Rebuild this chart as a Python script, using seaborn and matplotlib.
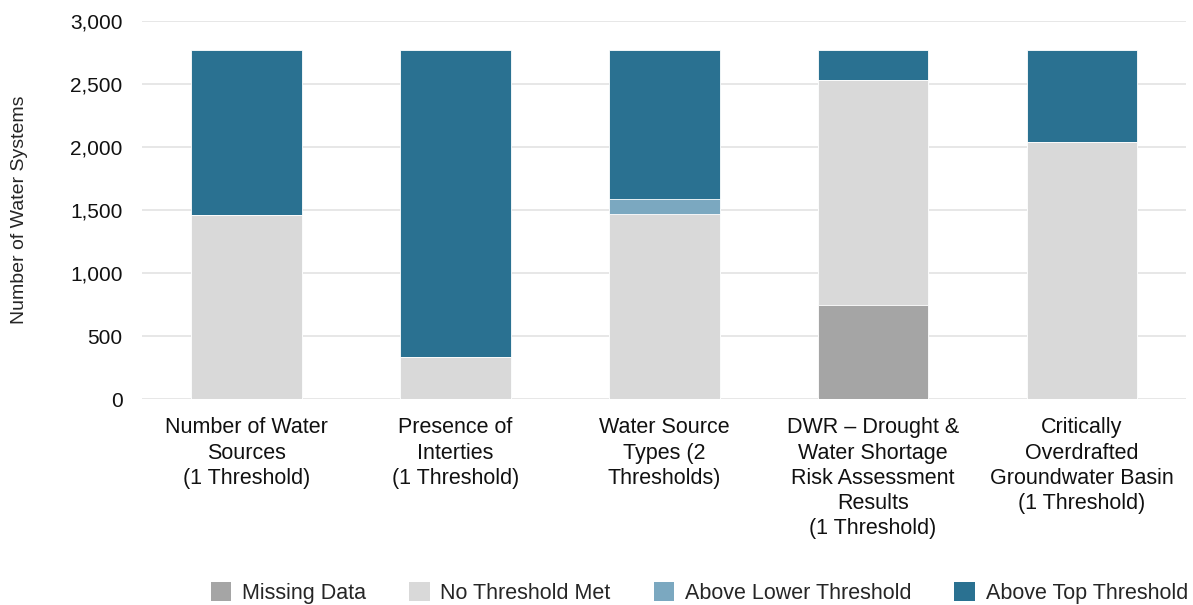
import pandas as pd
import seaborn as sns
import matplotlib.pyplot as plt
from matplotlib.patches import Patch
from matplotlib.ticker import FuncFormatter

categories = [
    "Number of Water\nSources\n(1 Threshold)",
    "Presence of\nInterties\n(1 Threshold)",
    "Water Source\nTypes (2\nThresholds)",
    "DWR – Drought &\nWater Shortage\nRisk Assessment\nResults\n(1 Threshold)",
    "Critically\nOverdrafted\nGroundwater Basin\n(1 Threshold)",
]
missing_data = [0, 0, 0, 746, 0]
no_threshold = [1466, 336, 1474, 1788, 2040]
above_lower = [0, 0, 113, 0, 0]
above_top = [1309, 2439, 1188, 241, 735]

series = ["Missing Data", "No Threshold Met", "Above Lower Threshold", "Above Top Threshold"]
colors = ["#A5A5A5", "#D9D9D9", "#7BA8C0", "#2A7191"]

df = pd.DataFrame({
    "category": categories,
    "Missing Data": missing_data,
    "No Threshold Met": no_threshold,
    "Above Lower Threshold": above_lower,
    "Above Top Threshold": above_top,
})

sns.set_style("white")
plt.rcParams['font.family'] = ['Liberation Sans', 'DejaVu Sans']

fig, ax = plt.subplots(figsize=(11.93, 6.05), dpi=100)
fig.subplots_adjust(left=0.119, right=0.9945, top=0.965, bottom=0.34)

# stacked bars: draw cumulative totals from the top layer down
cum = df[series].cumsum(axis=1)
for name, col in reversed(list(zip(series, colors))):
    sns.barplot(data=cum, x=df["category"], y=name, color=col, width=0.53,
                saturation=1, edgecolor="#FFFFFF", linewidth=0.6, ax=ax, zorder=2)

ax.set_ylim(0, 3000)
ax.set_yticks(range(0, 3001, 500))
ax.yaxis.set_major_formatter(FuncFormatter(lambda v, p: f"{int(v):,}"))
ax.grid(axis="y", color="#E3E3E3", linewidth=1.2, zorder=0)
ax.set_axisbelow(True)
sns.despine(ax=ax, left=True, bottom=True)
ax.tick_params(axis="both", length=0, colors="#111111")
ax.tick_params(axis="y", pad=14, labelsize=15)
ax.tick_params(axis="x", pad=13, labelsize=15.5)
for lbl in ax.get_xticklabels():
    lbl.set_linespacing(1.26)
ax.set_xlabel("")
ax.set_ylabel("Number of Water Systems", fontsize=14, labelpad=30)

handles = [Patch(facecolor=c, edgecolor="none") for c in colors]
fig.legend(handles, series, loc="lower right", bbox_to_anchor=(1.012, -0.03), ncol=4,
           frameon=False, fontsize=15.5, handlelength=0.95, handleheight=0.95,
           handletextpad=0.5, columnspacing=2.0)

fig.savefig("out.png", dpi=100)
